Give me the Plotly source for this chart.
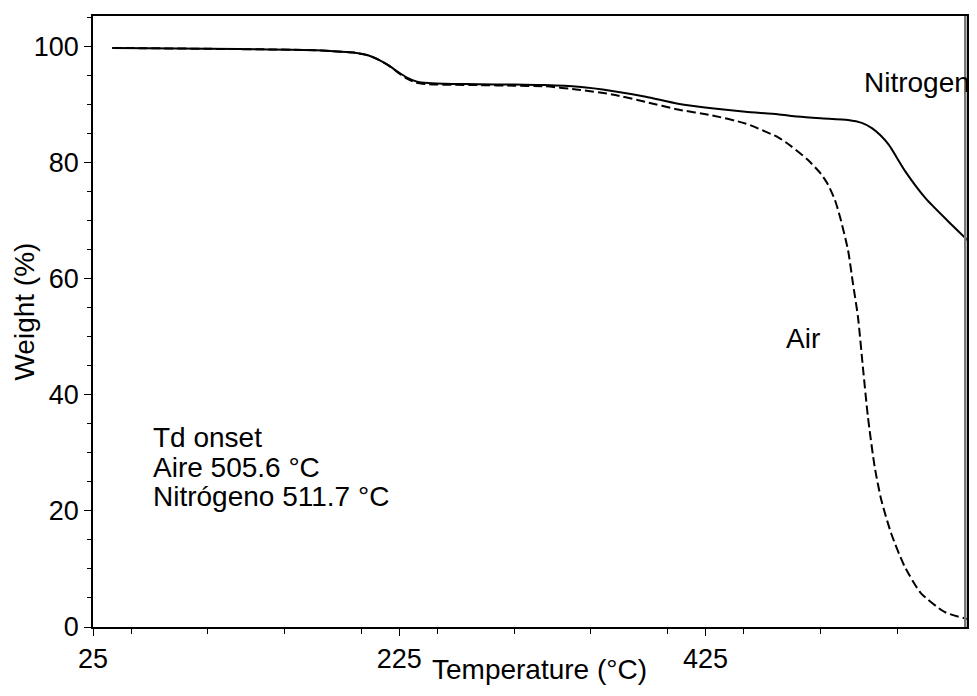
import plotly.graph_objects as go

# TGA curves
temp_n2 = [37.6, 60, 100, 140, 170, 182, 195, 205, 212, 218, 224, 230, 236, 244, 260, 277,
           300, 320, 342, 364, 386, 407, 429, 451, 472, 485, 500, 518, 527, 533.6, 539,
           544.7, 555.5, 569, 584, 598.5]
weight_n2 = [99.7, 99.65, 99.55, 99.45, 99.3, 99.15, 98.9, 98.4, 97.6, 96.7, 95.6, 94.6, 93.95,
             93.65, 93.5, 93.45, 93.4, 93.3, 93.0, 92.3, 91.3, 90.1, 89.3, 88.7, 88.3, 87.9,
             87.6, 87.3, 86.8, 85.9, 84.7, 83.0, 78.4, 73.7, 69.7, 66.0]

temp_air = [37.6, 60, 100, 140, 170, 182, 195, 205, 212, 218, 224, 230, 236, 244, 260, 277,
            300, 320, 342, 364, 386, 407, 429, 451, 472.4, 480.8, 491.9, 500.4, 504.9, 509.5,
            512.8, 518, 521.2, 524.5, 527.7, 531, 535.4, 539.7, 546.2, 555, 565.7, 581, 598.5]
weight_air = [99.7, 99.65, 99.55, 99.45, 99.3, 99.15, 98.9, 98.4, 97.6, 96.7, 95.5, 94.4, 93.7,
              93.45, 93.35, 93.3, 93.2, 93.1, 92.5, 91.7, 90.4, 89.1, 88.1, 86.7, 84.3, 82.8,
              80.4, 78.0, 76.2, 73.5, 70.6, 64.9, 59.2, 53.4, 44.8, 36.2, 27.6, 21.9, 16.1,
              10.4, 5.8, 2.6, 1.2]

onset_lines = ["Td onset", "Aire 505.6 °C", "Nitrógeno 511.7 °C"]

FONT = "Arial, Liberation Sans, sans-serif"
FS_TICK = 27
FS_TEXT = 28

fig = go.Figure()
fig.add_trace(go.Scatter(x=temp_n2, y=weight_n2, mode="lines", name="Nitrogen",
                         line=dict(color="black", width=2, shape="spline", smoothing=0.6)))
fig.add_trace(go.Scatter(x=temp_air, y=weight_air, mode="lines", name="Air",
                         line=dict(color="black", width=2, dash="9px,4px",
                                   shape="spline", smoothing=0.6)))

# the html body has an 8px margin on every side; keep the page from scrolling
fig.update_layout(
    width=961, height=680,
    margin=dict(l=85, r=0, t=8, b=61),
    paper_bgcolor="white", plot_bgcolor="white",
    showlegend=False,
    font=dict(family=FONT, size=FS_TEXT, color="black"),
)

fig.update_xaxes(range=[25, 595.7], tick0=25, dtick=200, ticks="outside", ticklen=7,
                 tickwidth=1, tickcolor="black", showgrid=False, zeroline=False,
                 showline=True, linecolor="black", linewidth=1.5, mirror=True,
                 minor=dict(dtick=50, ticks="outside", ticklen=5, tickcolor="black"),
                 tickfont=dict(size=FS_TICK))
fig.update_yaxes(range=[0, 105.2], tick0=0, dtick=20, ticks="outside", ticklen=7,
                 tickwidth=1, tickcolor="black", showgrid=False, zeroline=False,
                 showline=True, linecolor="black", linewidth=1.5, mirror=True,
                 minor=dict(dtick=5, ticks="outside", ticklen=4, tickcolor="black"),
                 tickfont=dict(size=FS_TICK))

# right border is greyish in the original
fig.add_shape(type="line", xref="paper", yref="paper", x0=0.998, x1=0.998, y0=0, y1=1,
              line=dict(color="#777777", width=2.5))

# axis titles
fig.add_annotation(text="Temperature (°C)", xref="paper", yref="paper", x=0.511, y=-0.069,
                   xanchor="center", yanchor="middle", showarrow=False)
fig.add_annotation(text="Weight (%)", xref="paper", yref="paper", x=-0.078, y=0.516,
                   xanchor="center", yanchor="middle", textangle=-90, showarrow=False)

# curve labels
fig.add_annotation(text="Nitrogen", x=527, y=93.8, xanchor="left", yanchor="middle",
                   showarrow=False)
fig.add_annotation(text="Air", x=476.5, y=49.7, xanchor="left", yanchor="middle",
                   showarrow=False)

# onset temperatures block
for txt, yy in zip(onset_lines, [32.7, 27.5, 22.4]):
    fig.add_annotation(text=txt, x=63, y=yy, xanchor="left", yanchor="middle",
                       showarrow=False)

fig.write_html("out.html")
